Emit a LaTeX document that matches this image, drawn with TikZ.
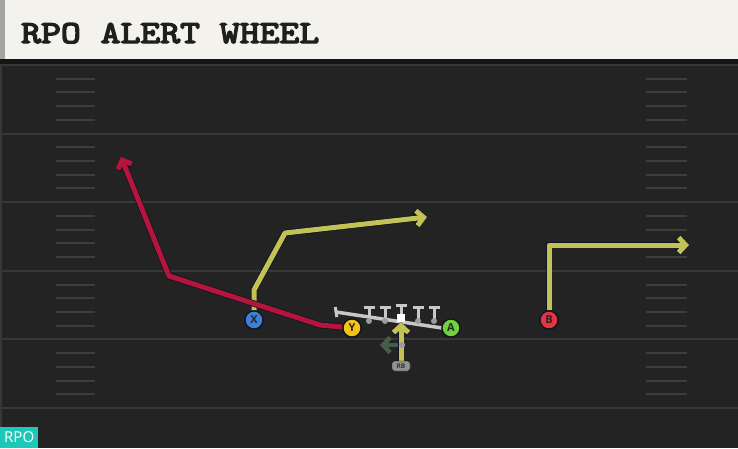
\documentclass[tikz,border=0pt]{standalone}
\usepackage{fontspec}
\newfontfamily\labelfont{Open Sans}
\newfontfamily\titlefont[FakeBold=4]{Latin Modern Mono}
\usetikzlibrary{arrows.meta}
\definecolor{field colour}{HTML}{232323}
\definecolor{yard colour}{HTML}{383838}
\definecolor{hash colour}{HTML}{3D3D3D}
\definecolor{header colour}{HTML}{F4F2EC}
\definecolor{header edge}{HTML}{A3A5A3}
\definecolor{shadow colour}{HTML}{141414}
\definecolor{edge colour}{HTML}{0E1420}
\definecolor{yellow route}{HTML}{C2C257}
\definecolor{red route}{HTML}{B5143C}
\definecolor{motion colour}{HTML}{445E4A}
\definecolor{line colour}{HTML}{C8C8C8}
\definecolor{dot colour}{HTML}{9C9C9C}
\definecolor{x colour}{HTML}{3F7FDC}
\definecolor{y colour}{HTML}{F6C315}
\definecolor{a colour}{HTML}{6FD23C}
\definecolor{b colour}{HTML}{E63340}
\definecolor{badge colour}{HTML}{1EC8B8}
\tikzset{
    % Open chevrons on every route
    >={Straight Barb[length=7pt, width=15pt]},
%
    % Field markings
    yard line/.style={draw=yard colour, line width=2pt},
    hash mark/.style={draw=hash colour, line width=2pt},
    % Routes get a thin dark edge round them
    route/.style={line width=5pt, line join=round, ->,
        preaction={draw=edge colour, line width=6.5pt}},
%
    % We almost always want centre aligned node text
    every node/.style={align=center},
}

\begin{document}
\begin{tikzpicture}[
    x=1pt, y=-1pt,
    player/.style={circle, draw=edge colour, line width=1.2pt, minimum size=18pt,
        inner sep=0pt, text=black!85, font=\labelfont\bfseries\fontsize{11}{11}\selectfont},
    rb/.style={rectangle, rounded corners=2.5pt, draw=edge colour, fill=dot colour!110,
        minimum width=18pt, minimum height=10pt, inner sep=0pt,
        font=\labelfont\bfseries\fontsize{6.5}{6.5}\selectfont, text=black!80},
    lineman/.style={draw=line colour, line width=3pt},
]
\useasboundingbox (0,0) rectangle (738,448);

% field and header
\fill [field colour] (0,59) rectangle (738,448);
\draw [yard colour, line width=2pt] (1,64) -- (1,448);
\foreach \k in {0,...,5}
    \draw [yard line] (0,{65+68.6*\k}) -- (738,{65+68.6*\k});
\foreach \k in {0,...,4}
    \foreach \j in {1,...,4} {
        \draw [hash mark] (56,{65+68.6*\k+13.72*\j}) -- (95,{65+68.6*\k+13.72*\j});
        \draw [hash mark] (646,{65+68.6*\k+13.72*\j}) -- (687,{65+68.6*\k+13.72*\j});
    }
\fill [header colour] (0,0) rectangle (738,59);
\fill [header edge] (0,0) rectangle (5,59);
\fill [shadow colour] (0,59) rectangle (738,64);
\node [anchor=base west, inner sep=0pt, text=black!88] (title) at (21,43)
    {\resizebox{298pt}{20pt}{\titlefont RPO ALERT WHEEL}};
\node [anchor=south west, fill=badge colour, text=white, inner sep=0pt,
    minimum width=38pt, minimum height=21pt,
    font=\labelfont\fontsize{15}{15}\selectfont] (badge) at (0,448) {RPO};

% offensive line
\draw [lineman, line width=3.5pt] (336,312) -- (442,328);
\draw [lineman] (335.3,307) -- (336.8,317);
\foreach \x in {369,385,418,434} {
    \draw [lineman] (\x-5.5,307) -- (\x+5.5,307) (\x,307) -- (\x,320);
    \fill [dot colour] (\x,321) circle (3pt);
}
\node [fill=white, minimum size=8pt, inner sep=0pt] (C) at (401,318) {};
\draw [lineman] (395.5,305) -- (406.5,305) (401,305) -- (C.north);

% players
\path
    node [player, fill=x colour] (X) at (254,320) {X}
    node [player, fill=y colour] (Y) at (352,328) {Y}
    node [player, fill=a colour] (A) at (451,328) {A}
    node [player, fill=b colour] (B) at (549,320) {B}
    node [rb] (RB) at (401,366) {RB}
    node [circle, fill=dot colour, minimum size=6pt, inner sep=0pt] (motion) at (402,345) {};

\coordinate (x stem) at (254,290);
\coordinate (x break) at (285,233);
\coordinate (x end) at (427,217);
\coordinate (y stem) at (320,325);
\coordinate (y break) at (169,276);
\coordinate (y end) at (121,157);
\coordinate (b break) at (549,245);
\coordinate (b end) at (689,245);
\coordinate (motion end) at (380,345);

\draw [route, yellow route] (X) -- (x stem) -- (x break) -- (x end);
\draw [route, red route] (Y) -- (y stem) -- (y break) -- (y end);
\draw [route, yellow route] (B) -- (b break) -- (b end);
\draw [motion colour, line width=4.5pt, ->] (motion.center) -- (motion end);
\draw [route, yellow route] (RB) -- (C.south);

% players go on top of their routes
\path
    node [player, fill=x colour] at (X) {X}
    node [player, fill=y colour] at (Y) {Y}
    node [player, fill=a colour] at (A) {A}
    node [player, fill=b colour] at (B) {B}
    node [rb] at (RB) {RB}
    node [circle, fill=dot colour, minimum size=6pt, inner sep=0pt] at (motion) {};

\end{tikzpicture}
\end{document}
